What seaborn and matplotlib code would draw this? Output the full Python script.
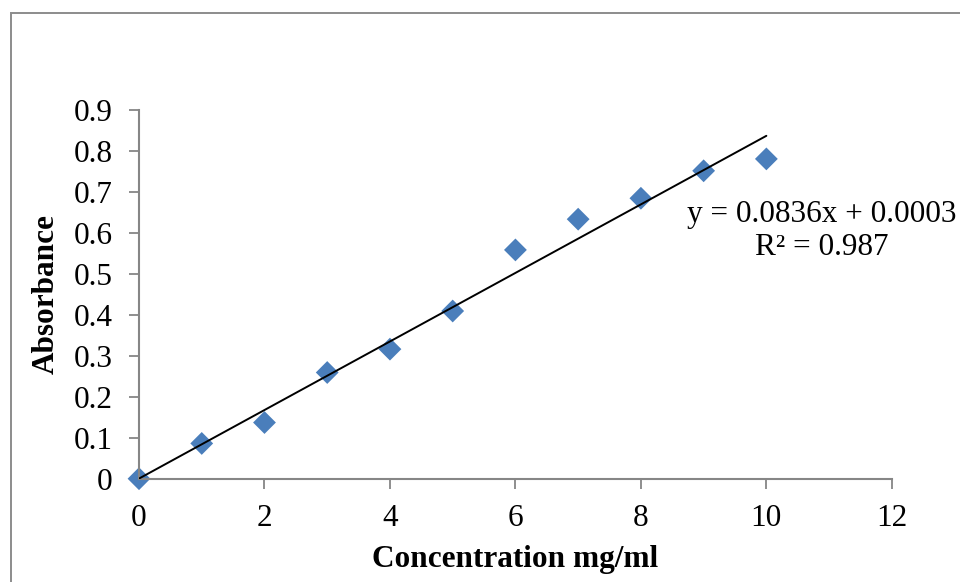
import matplotlib
matplotlib.use("Agg")
import matplotlib.pyplot as plt
import seaborn as sns
import numpy as np
import pandas as pd
from matplotlib.patches import Rectangle

# Calibration data
concentration = [0, 1, 2, 3, 4, 5, 6, 7, 8, 9, 10]
absorbance = [0.0, 0.086, 0.137, 0.259, 0.316, 0.409, 0.558, 0.633, 0.684, 0.751, 0.780]

# Linear trendline parameters
slope = 0.0836
intercept = 0.0003
r_squared = 0.987

x_ticks = [0, 2, 4, 6, 8, 10, 12]
y_ticks = [0, 0.1, 0.2, 0.3, 0.4, 0.5, 0.6, 0.7, 0.8, 0.9]
y_tick_labels = ["0", "0.1", "0.2", "0.3", "0.4", "0.5", "0.6", "0.7", "0.8", "0.9"]

sns.set_theme(style="white")
plt.rcParams["font.family"] = ["Liberation Serif", "DejaVu Serif"]

df = pd.DataFrame({"conc": concentration, "abs": absorbance})

fig = plt.figure(figsize=(9.6, 5.82), dpi=100)
ax = fig.add_axes([0.1448, 0.1775, 0.929 - 0.1448, 0.8115 - 0.1775])

# Chart-area border
fig.patches.append(Rectangle((10.5 / 960, -0.05), 1.2, 1 - 12.5 / 582 + 0.05,
                             transform=fig.transFigure, fill=False,
                             edgecolor="#8c8c8c", linewidth=1.4))

# Trendline
fit_x = np.array([concentration[0], concentration[-1]])
fit_y = slope * fit_x + intercept
ax.plot(fit_x, fit_y, color="black", linewidth=1.4, zorder=3)

sns.scatterplot(data=df, x="conc", y="abs", marker="D", s=135,
                color="#4a7ebb", edgecolor="none", ax=ax, zorder=2,
                clip_on=False)

ax.set_xlim(0, 12)
ax.set_ylim(0, 0.9)
ax.set_xticks(x_ticks)
ax.set_xticklabels([str(t) for t in x_ticks])
ax.set_yticks(y_ticks)
ax.set_yticklabels(y_tick_labels)

for side in ["top", "right"]:
    ax.spines[side].set_visible(False)
for side in ["left", "bottom"]:
    ax.spines[side].set_color("#868686")
    ax.spines[side].set_linewidth(1.5)

ax.tick_params(axis="both", which="major", direction="out", length=7,
               width=1.3, color="#868686", labelsize=22.5, labelcolor="black",
               left=True, bottom=True)
ax.tick_params(axis="y", pad=12)
ax.tick_params(axis="x", pad=11)

ax.set_xlabel("Concentration mg/ml", fontsize=22.5, fontweight="bold",
              color="black", labelpad=9)
ax.set_ylabel("Absorbance", fontsize=22.5, fontweight="bold",
              color="black", labelpad=9)

eq = f"y = {slope}x + {intercept:.4f}\nR² = {r_squared}"
fig.text(822 / 960, 1 - 231 / 582, eq, ha="center", va="center",
         fontsize=22.5, color="black", linespacing=1.15)

fig.savefig("out.png", dpi=100, facecolor="white")
